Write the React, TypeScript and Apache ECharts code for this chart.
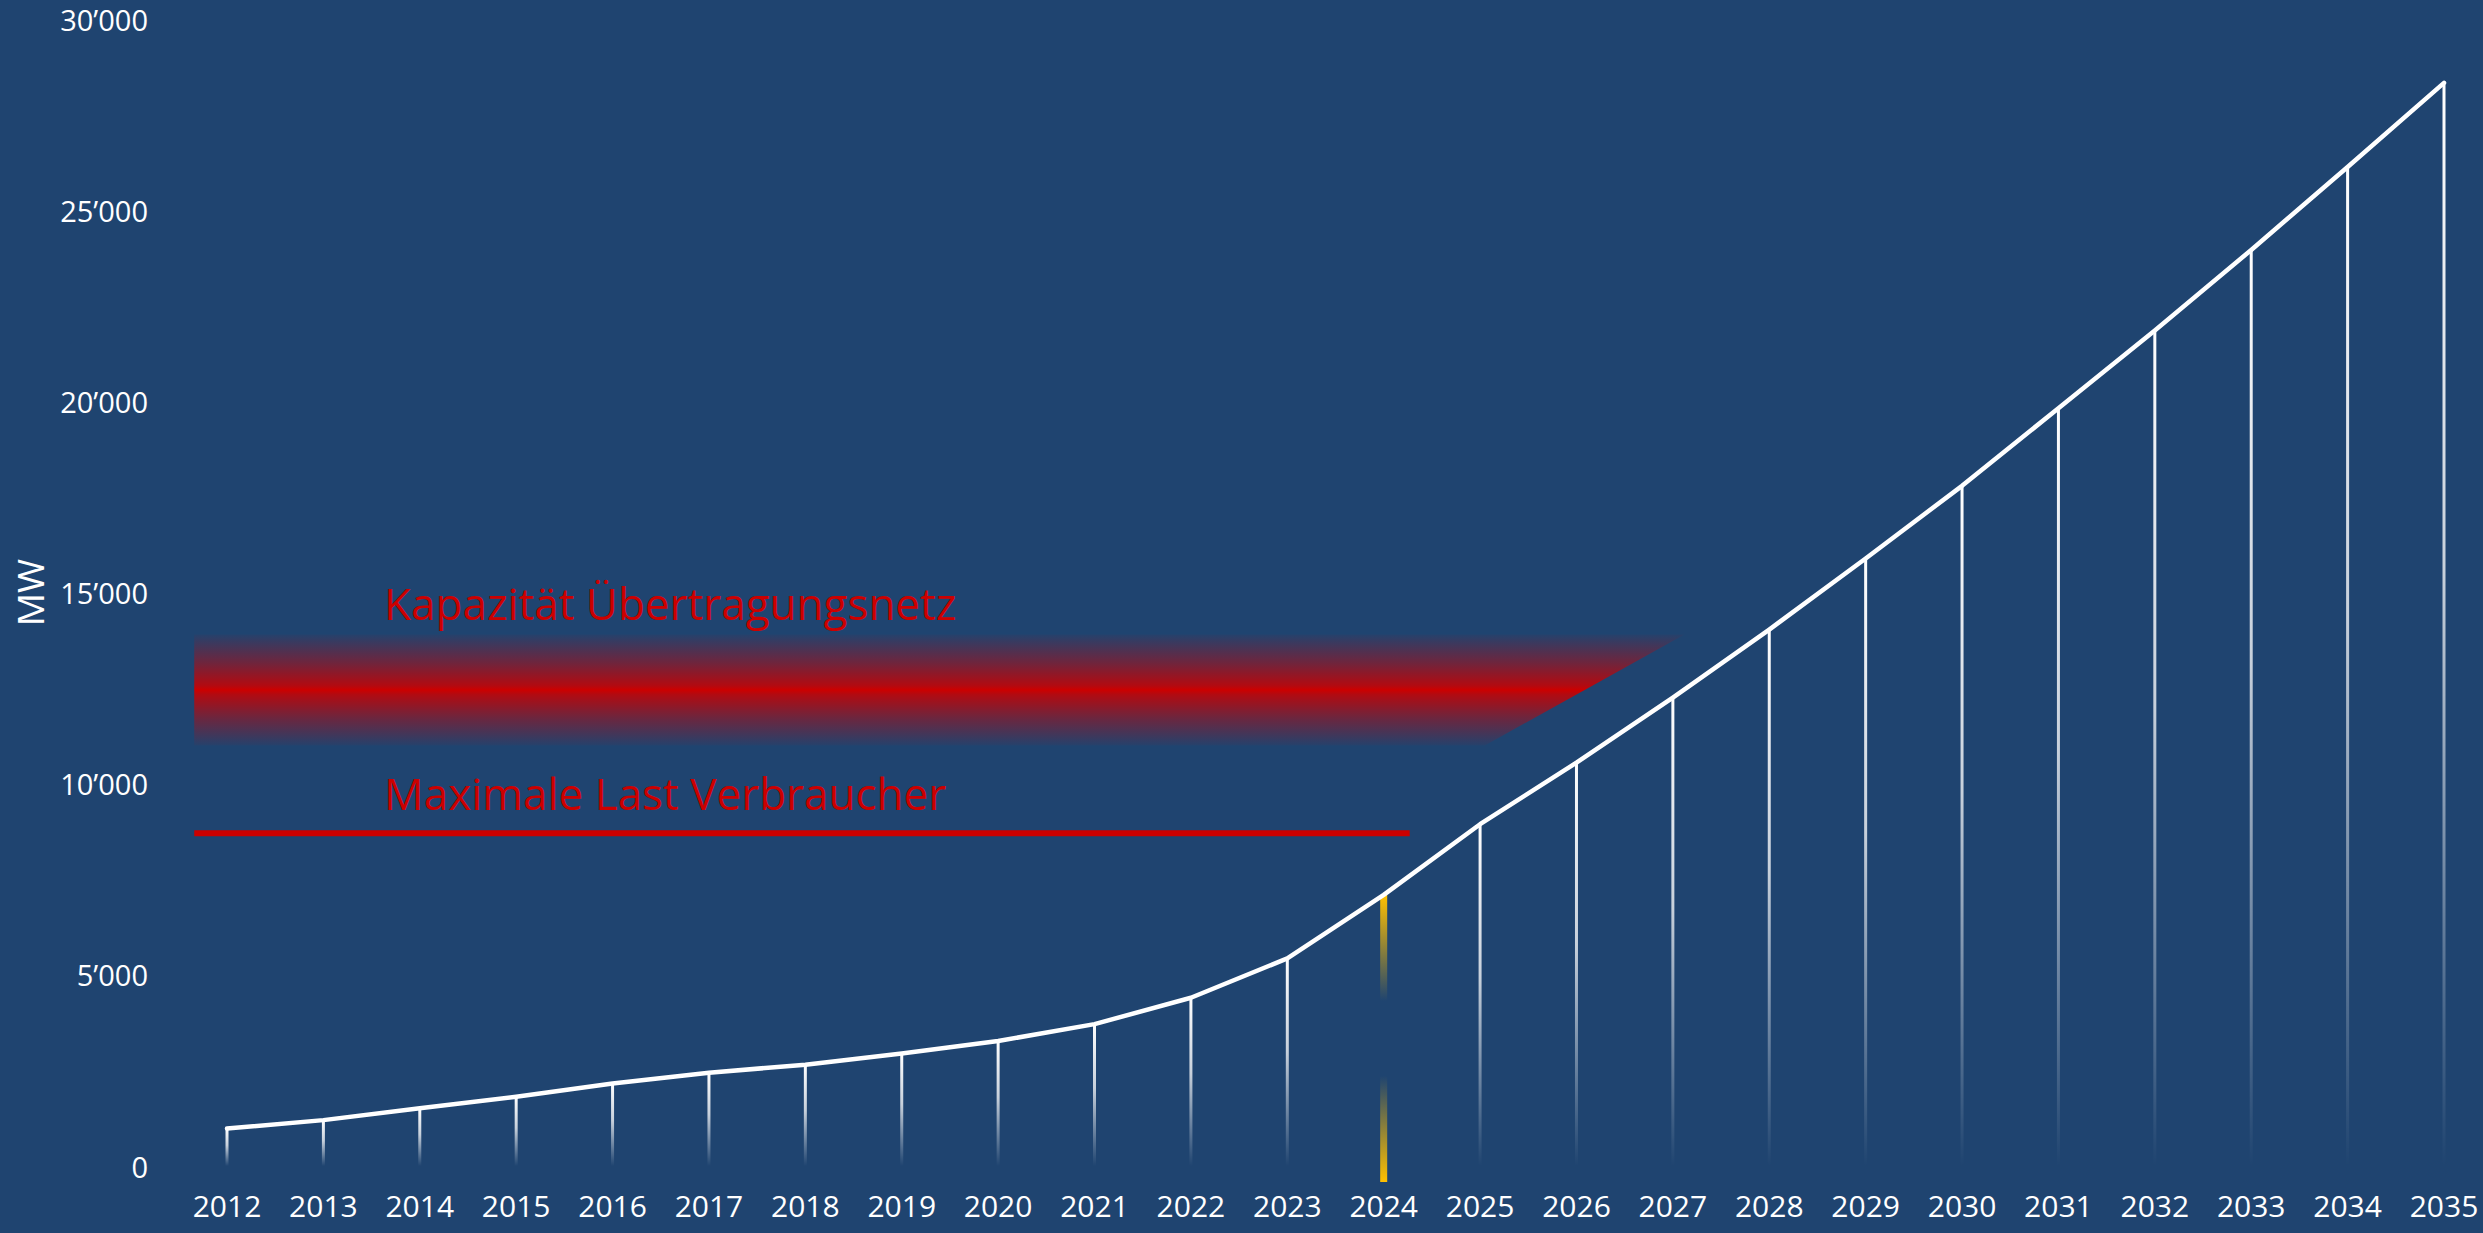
import React, { useEffect, useRef } from "react";
import * as echarts from "echarts";

// ---- data ----
const years = [
  "2012", "2013", "2014", "2015", "2016", "2017", "2018", "2019", "2020", "2021", "2022", "2023",
  "2024", "2025", "2026", "2027", "2028", "2029", "2030", "2031", "2032", "2033", "2034", "2035",
];
const capacityMW = [
  980, 1200, 1510, 1810, 2160, 2440, 2650, 2940, 3270, 3710, 4400, 5430,
  7090, 8940, 10550, 12250, 14030, 15890, 17790, 19820, 21850, 23960, 26130, 28330,
];
const yTicks = [0, 5000, 10000, 15000, 20000, 25000, 30000];
const highlightYear = "2024";
const highlightBottomMW = -420;

const gridCapacityLabel = "Kapazität Übertragungsnetz";
const gridCapacityBand = [11000, 12450, 13900]; // low, centre, high (MW)
const gridCapacityStart = -0.34; // category index
const gridCapacityEndTop = 15.12;
const gridCapacityEndBottom = 13.05;
const gridCapacityLabelPos = [1.63, 14730];

const maxLoadLabel = "Maximale Last Verbraucher";
const maxLoadMW = 8700;
const maxLoadStart = -0.34;
const maxLoadEnd = 12.27;
const maxLoadLabelPos = [1.63, 9760];

const BG = "#1F4470";
const RED = "#CC0000";
const FONT = "'Open Sans', 'Noto Sans', sans-serif";

const fmt = (v: number) => String(v).replace(/\B(?=(\d{3})+(?!\d))/g, "\u2019");

export default function App() {
  const ref = useRef<HTMLDivElement>(null);
  useEffect(() => {
    document.body.style.margin = "0";
    document.body.style.background = BG;
    if (!ref.current) return;
    const chart = echarts.init(ref.current, undefined, { renderer: "svg" });
    const hlIndex = years.indexOf(highlightYear);

    const xAt = (api: any, idx: number) => {
      const p0 = api.coord([0, 0]);
      const p1 = api.coord([1, 0]);
      return p0[0] + (p1[0] - p0[0]) * idx;
    };
    const yAt = (api: any, v: number) => api.coord([0, v])[1];

    chart.setOption({
      animation: false,
      backgroundColor: BG,
      grid: {
        left: 227,
        right: 39,
        top: 19,
        bottom: 67,
        containLabel: false,
        outerBoundsMode: "none",
      },
      xAxis: {
        type: "category",
        data: years,
        boundaryGap: false,
        axisLine: { show: false },
        axisTick: { show: false },
        splitLine: { show: false },
        axisLabel: { color: "#FFFFFF", fontSize: 30, fontFamily: FONT, margin: 24, interval: 0 },
      },
      yAxis: {
        type: "value",
        min: 0,
        max: 30000,
        interval: 5000,
        name: "MW",
        nameLocation: "middle",
        nameGap: 181,
        nameTextStyle: { color: "#FFFFFF", fontSize: 37, lineHeight: 34, fontFamily: FONT },
        axisLine: { show: false },
        axisTick: { show: false },
        splitLine: { show: false },
        axisLabel: {
          color: "#FFFFFF",
          fontSize: 29,
          fontFamily: FONT,
          margin: 79,
          formatter: (v: number) => (yTicks.includes(v) ? fmt(v) : ""),
        },
      },
      series: [
        {
          type: "custom",
          name: "band",
          clip: false,
          z: 1,
          silent: true,
          data: [[0, 0]],
          renderItem: (params: any, api: any) => {
            const [lo, , hi] = gridCapacityBand;
            const xl = xAt(api, gridCapacityStart);
            const xrt = xAt(api, gridCapacityEndTop);
            const xrb = xAt(api, gridCapacityEndBottom);
            const yt = yAt(api, hi);
            const yb = yAt(api, lo);
            return {
              type: "group",
              children: [
                {
                  type: "polygon",
                  shape: { points: [[xl, yt], [xrt, yt], [xrb, yb], [xl, yb]] },
                  style: {
                    fill: new echarts.graphic.LinearGradient(0, 0, 0, 1, [
                      { offset: 0, color: "rgba(204,0,0,0.04)" },
                      { offset: 0.25, color: "rgba(204,0,0,0.45)" },
                      { offset: 0.46, color: "rgba(204,0,0,0.85)" },
                      { offset: 0.5, color: "rgba(204,0,0,1)" },
                      { offset: 0.54, color: "rgba(204,0,0,0.85)" },
                      { offset: 0.75, color: "rgba(204,0,0,0.45)" },
                      { offset: 1, color: "rgba(204,0,0,0.04)" },
                    ]),
                  },
                },
                {
                  type: "text",
                  x: xAt(api, gridCapacityLabelPos[0]),
                  y: yAt(api, gridCapacityLabelPos[1]),
                  style: {
                    text: gridCapacityLabel,
                    fill: RED,
                    fontSize: 44,
                    fontFamily: FONT,
                    align: "left",
                    verticalAlign: "middle",
                  },
                },
              ],
            };
          },
        },
        {
          type: "custom",
          name: "maxload",
          clip: false,
          z: 1,
          silent: true,
          data: [[0, 0]],
          renderItem: (params: any, api: any) => {
            const y = yAt(api, maxLoadMW);
            return {
              type: "group",
              children: [
                {
                  type: "line",
                  shape: { x1: xAt(api, maxLoadStart), y1: y, x2: xAt(api, maxLoadEnd), y2: y },
                  style: { stroke: RED, lineWidth: 6 },
                },
                {
                  type: "text",
                  x: xAt(api, maxLoadLabelPos[0]),
                  y: yAt(api, maxLoadLabelPos[1]),
                  style: {
                    text: maxLoadLabel,
                    fill: RED,
                    fontSize: 44,
                    fontFamily: FONT,
                    align: "left",
                    verticalAlign: "middle",
                  },
                },
              ],
            };
          },
        },
        {
          type: "bar",
          name: "stems",
          z: 2,
          barWidth: 3,
          silent: true,
          itemStyle: {
            color: new echarts.graphic.LinearGradient(0, 0, 0, 1, [
              { offset: 0, color: "rgba(255,255,255,1)" },
              { offset: 0.45, color: "rgba(255,255,255,0.75)" },
              { offset: 1, color: "rgba(255,255,255,0)" },
            ]),
          },
          data: capacityMW.map((v, i) => (i === hlIndex ? "-" : v)),
        },
        {
          type: "custom",
          name: "highlight",
          clip: false,
          z: 3,
          silent: true,
          data: [[hlIndex, capacityMW[hlIndex]]],
          renderItem: (params: any, api: any) => {
            const x = xAt(api, hlIndex);
            const yt = yAt(api, capacityMW[hlIndex]);
            const yb = yAt(api, highlightBottomMW);
            return {
              type: "rect",
              shape: { x: x - 3.5, y: yt, width: 7, height: yb - yt },
              style: {
                fill: new echarts.graphic.LinearGradient(0, 0, 0, 1, [
                  { offset: 0, color: "rgba(255,192,0,1)" },
                  { offset: 0.37, color: "rgba(255,192,0,0)" },
                  { offset: 0.63, color: "rgba(255,192,0,0)" },
                  { offset: 1, color: "rgba(255,192,0,1)" },
                ]),
              },
            };
          },
        },
        {
          type: "line",
          name: "Leistung",
          z: 4,
          symbol: "none",
          silent: true,
          lineStyle: { color: "#FFFFFF", width: 4.5, cap: "round", join: "round" },
          data: capacityMW,
        },
      ],
    });
    return () => chart.dispose();
  }, []);
  return (
    <div
      ref={ref}
      style={{ position: "fixed", left: 0, top: 0, width: 2483, height: 1233 }}
    />
  );
}
